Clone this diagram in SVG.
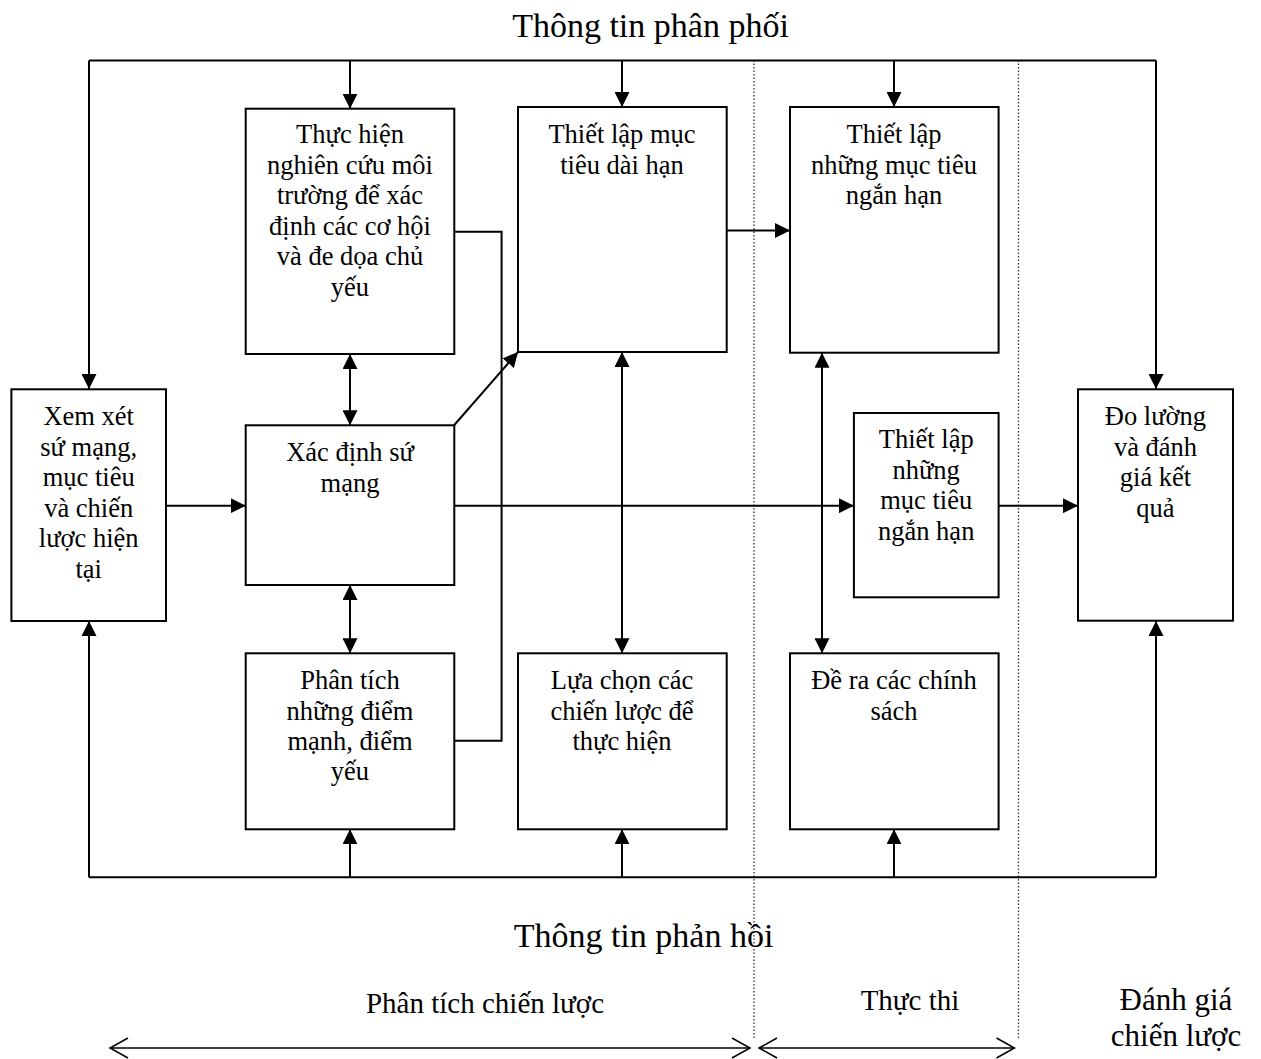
<svg xmlns="http://www.w3.org/2000/svg" width="1261" height="1059" viewBox="0 0 1261 1059">
  <style>
    .box { fill: #fff; stroke: #000; stroke-width: 2; }
    .lbl { font-family: "Liberation Serif", "Times New Roman", serif; font-size: 26.5px; fill: #000; text-anchor: middle; }
    .title { font-family: "Liberation Serif", "Times New Roman", serif; font-size: 34px; fill: #000; text-anchor: middle; }
    .phase { font-family: "Liberation Serif", "Times New Roman", serif; font-size: 29px; fill: #000; text-anchor: middle; }
    .eval { font-family: "Liberation Serif", "Times New Roman", serif; font-size: 31px; fill: #000; text-anchor: middle; }
    .wire { fill: none; stroke: #000; stroke-width: 2; }
    .arr { fill: none; stroke: #000; stroke-width: 2; marker-end: url(#head); }
    .both { fill: none; stroke: #000; stroke-width: 2; marker-start: url(#head); marker-end: url(#head); }
    .divider { fill: none; stroke: #333; stroke-width: 1.3; stroke-dasharray: 1.5 2; }
    .span { fill: none; stroke: #000; stroke-width: 1.5; marker-start: url(#open); marker-end: url(#open); }
  </style>
  <defs>
    <marker id="head" markerUnits="userSpaceOnUse" markerWidth="15" markerHeight="15" viewBox="0 0 15 15" refX="15" refY="7.5" orient="auto-start-reverse">
      <path d="M0,0 L15,7.5 L0,15 Z" fill="#000"/>
    </marker>
    <marker id="open" markerUnits="userSpaceOnUse" markerWidth="22" markerHeight="24" viewBox="-2 -2 22 24" refX="18" refY="10" orient="auto-start-reverse">
      <path d="M0,0 L18,10 L0,20" fill="none" stroke="#000" stroke-width="1.5"/>
    </marker>
  </defs>

  <rect width="1261" height="1059" fill="#fff"/>

  <!-- phase dividers -->
  <g id="dividers">
    <line class="divider" x1="754" y1="60" x2="754" y2="1040"/>
    <line class="divider" x1="1018.5" y1="60" x2="1018.5" y2="1040"/>
  </g>

  <!-- connectors -->
  <g id="connectors">
    <!-- distribution bus -->
    <path class="wire" d="M89,60.5 H1156"/>
    <path class="arr" d="M89,60.5 V389"/>
    <path class="arr" d="M350,60.5 V108.7"/>
    <path class="arr" d="M622,60.5 V107"/>
    <path class="arr" d="M894,60.5 V107"/>
    <path class="arr" d="M1156,60.5 V389"/>
    <!-- feedback bus -->
    <path class="wire" d="M89,877.3 H1156"/>
    <path class="arr" d="M89,877.3 V621"/>
    <path class="arr" d="M350,877.3 V829.3"/>
    <path class="arr" d="M622,877.3 V829.3"/>
    <path class="arr" d="M894,877.3 V829.3"/>
    <path class="arr" d="M1156,877.3 V621"/>
    <!-- two-way links -->
    <path class="both" d="M350,354 V425.3"/>
    <path class="both" d="M350,585 V653.3"/>
    <path class="both" d="M622,352 V653.3"/>
    <path class="both" d="M822,352.7 V653.3"/>
    <!-- main flow -->
    <path class="arr" d="M166,505.7 H245.7"/>
    <path class="arr" d="M454.3,505.7 H853.9"/>
    <path class="arr" d="M998.6,505.7 H1078"/>
    <path class="arr" d="M454.3,425 L518,352"/>
    <path class="arr" d="M726.7,230.5 H790"/>
    <!-- environment / internal analysis bracket -->
    <path class="wire" d="M454.3,231.7 H501.6 V740.7 H454.3"/>
  </g>

  <!-- nodes -->
  <g id="review">
    <rect class="box" x="11.4" y="389.3" width="154.6" height="231.7"/>
    <text class="lbl" x="88.7" y="425">Xem xét</text>
    <text class="lbl" x="88.7" y="455.5">sứ mạng,</text>
    <text class="lbl" x="88.7" y="486">mục tiêu</text>
    <text class="lbl" x="88.7" y="516.5">và chiến</text>
    <text class="lbl" x="88.7" y="547">lược hiện</text>
    <text class="lbl" x="88.7" y="577.5">tại</text>
  </g>

  <g id="environment">
    <rect class="box" x="245.7" y="108.7" width="208.6" height="245.3"/>
    <text class="lbl" x="350" y="143">Thực hiện</text>
    <text class="lbl" x="350" y="173.5">nghiên cứu môi</text>
    <text class="lbl" x="350" y="204">trường để xác</text>
    <text class="lbl" x="350" y="234.5">định các cơ hội</text>
    <text class="lbl" x="350" y="265">và đe dọa chủ</text>
    <text class="lbl" x="350" y="295.5">yếu</text>
  </g>

  <g id="mission">
    <rect class="box" x="245.7" y="425.3" width="208.6" height="159.7"/>
    <text class="lbl" x="350" y="461">Xác định sứ</text>
    <text class="lbl" x="350" y="491.5">mạng</text>
  </g>

  <g id="internal">
    <rect class="box" x="245.7" y="653.3" width="208.6" height="176"/>
    <text class="lbl" x="350" y="689.3">Phân tích</text>
    <text class="lbl" x="350" y="719.5">những điểm</text>
    <text class="lbl" x="350" y="749.7">mạnh, điểm</text>
    <text class="lbl" x="350" y="780">yếu</text>
  </g>

  <g id="long-term">
    <rect class="box" x="518" y="107" width="208.7" height="245"/>
    <text class="lbl" x="622" y="143">Thiết lập mục</text>
    <text class="lbl" x="622" y="173.5">tiêu dài hạn</text>
  </g>

  <g id="strategy-choice">
    <rect class="box" x="518" y="653.3" width="208.7" height="176"/>
    <text class="lbl" x="622" y="689.3">Lựa chọn các</text>
    <text class="lbl" x="622" y="719.5">chiến lược để</text>
    <text class="lbl" x="622" y="749.7">thực hiện</text>
  </g>

  <g id="annual-top">
    <rect class="box" x="790" y="107" width="208.6" height="245.7"/>
    <text class="lbl" x="894" y="143">Thiết lập</text>
    <text class="lbl" x="894" y="173.5">những mục tiêu</text>
    <text class="lbl" x="894" y="204">ngắn hạn</text>
  </g>

  <g id="annual-mid">
    <rect class="box" x="853.9" y="413" width="144.7" height="184.3"/>
    <text class="lbl" x="926.2" y="448.3">Thiết lập</text>
    <text class="lbl" x="926.2" y="478.8">những</text>
    <text class="lbl" x="926.2" y="509.3">mục tiêu</text>
    <text class="lbl" x="926.2" y="539.8">ngắn hạn</text>
  </g>

  <g id="policies">
    <rect class="box" x="790" y="653.3" width="208.6" height="176"/>
    <text class="lbl" x="894" y="689.3">Đề ra các chính</text>
    <text class="lbl" x="894" y="719.5">sách</text>
  </g>

  <g id="evaluate">
    <rect class="box" x="1078" y="389.3" width="155" height="231.4"/>
    <text class="lbl" x="1155.5" y="425">Đo lường</text>
    <text class="lbl" x="1155.5" y="455.5">và đánh</text>
    <text class="lbl" x="1155.5" y="486">giá kết</text>
    <text class="lbl" x="1155.5" y="516.5">quả</text>
  </g>

  <!-- headings -->
  <g id="headings">
    <text class="title" x="650.5" y="37">Thông tin phân phối</text>
    <text class="title" x="643.5" y="947">Thông tin phản hồi</text>
  </g>

  <!-- phase spans -->
  <g id="phases">
    <line class="span" x1="110" y1="1048" x2="750" y2="1048"/>
    <line class="span" x1="759" y1="1048" x2="1014.5" y2="1048"/>
    <text class="phase" x="485" y="1013">Phân tích chiến lược</text>
    <text class="phase" x="910" y="1010">Thực thi</text>
    <text class="eval" x="1176" y="1010">Đánh giá</text>
    <text class="eval" x="1176" y="1046">chiến lược</text>
  </g>
</svg>
